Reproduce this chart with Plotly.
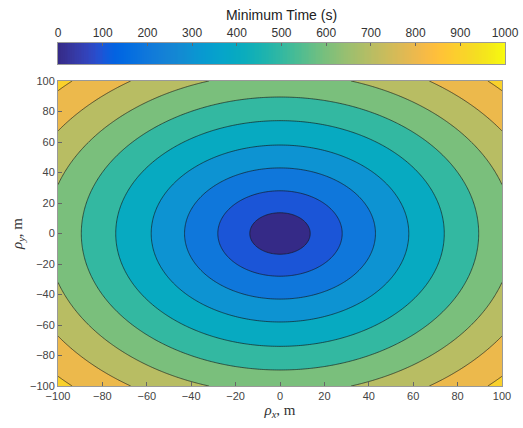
import numpy as np
import plotly.graph_objects as go

# ---- data ----
# radial distance (m) from the origin at which each contour level is crossed
radius_m = [0, 13.6, 28.0, 43.0, 58.0, 74.0, 89.5, 105.0, 120.5, 137.0, 141.5]
time_s = [5, 100, 200, 300, 400, 500, 600, 700, 800, 900, 930]
contour_levels = [100, 200, 300, 400, 500, 600, 700, 800, 900]
axis_ticks = [-100, -80, -60, -40, -20, 0, 20, 40, 60, 80, 100]
cbar_ticks = [0, 100, 200, 300, 400, 500, 600, 700, 800, 900, 1000]
cbar_range = [0, 1000]

# ---- parula colormap ----
parula = [[0.2081, 0.1663, 0.5292], [0.2116, 0.1898, 0.5777], [0.2123, 0.2138, 0.6270], [0.2081, 0.2386, 0.6771],
          [0.1959, 0.2645, 0.7279], [0.1707, 0.2919, 0.7792], [0.1253, 0.3242, 0.8303], [0.0591, 0.3598, 0.8683],
          [0.0117, 0.3875, 0.8820], [0.0060, 0.4086, 0.8828], [0.0165, 0.4266, 0.8786], [0.0329, 0.4430, 0.8720],
          [0.0498, 0.4586, 0.8641], [0.0629, 0.4737, 0.8554], [0.0723, 0.4887, 0.8467], [0.0779, 0.5040, 0.8384],
          [0.0793, 0.5200, 0.8312], [0.0749, 0.5375, 0.8263], [0.0641, 0.5570, 0.8240], [0.0488, 0.5772, 0.8228],
          [0.0343, 0.5966, 0.8199], [0.0265, 0.6137, 0.8135], [0.0239, 0.6287, 0.8038], [0.0231, 0.6418, 0.7913],
          [0.0228, 0.6535, 0.7768], [0.0267, 0.6642, 0.7607], [0.0384, 0.6743, 0.7436], [0.0590, 0.6838, 0.7254],
          [0.0843, 0.6928, 0.7062], [0.1133, 0.7015, 0.6859], [0.1453, 0.7098, 0.6646], [0.1801, 0.7177, 0.6424],
          [0.2178, 0.7250, 0.6193], [0.2586, 0.7317, 0.5954], [0.3022, 0.7376, 0.5712], [0.3482, 0.7424, 0.5473],
          [0.3953, 0.7459, 0.5244], [0.4420, 0.7481, 0.5033], [0.4871, 0.7491, 0.4840], [0.5300, 0.7491, 0.4661],
          [0.5709, 0.7485, 0.4494], [0.6099, 0.7473, 0.4337], [0.6473, 0.7456, 0.4188], [0.6834, 0.7435, 0.4044],
          [0.7184, 0.7411, 0.3905], [0.7525, 0.7384, 0.3768], [0.7858, 0.7356, 0.3633], [0.8185, 0.7327, 0.3498],
          [0.8507, 0.7299, 0.3360], [0.8824, 0.7274, 0.3217], [0.9139, 0.7258, 0.3063], [0.9450, 0.7261, 0.2886],
          [0.9739, 0.7314, 0.2666], [0.9938, 0.7455, 0.2403], [0.9990, 0.7653, 0.2164], [0.9955, 0.7861, 0.1967],
          [0.9880, 0.8066, 0.1794], [0.9789, 0.8271, 0.1633], [0.9697, 0.8481, 0.1475], [0.9626, 0.8705, 0.1309],
          [0.9589, 0.8949, 0.1132], [0.9598, 0.9218, 0.0948], [0.9661, 0.9514, 0.0755], [0.9763, 0.9831, 0.0538]]
parula = np.array(parula)


def parula_at(t):
    t = min(max(t, 0.0), 1.0)
    pos = t * (len(parula) - 1)
    i = int(np.floor(pos))
    j = min(i + 1, len(parula) - 1)
    f = pos - i
    c = parula[i] * (1 - f) + parula[j] * f
    return "rgb(%d,%d,%d)" % tuple(np.round(c * 255).astype(int))


cont_scale = [[k / (len(parula) - 1), parula_at(k / (len(parula) - 1))] for k in range(len(parula))]

# band colours in MATLAB style: each band coloured by its lower level
band_lows = [0] + contour_levels
band_scale = [[k / (len(band_lows) - 1), parula_at(v / 1000)] for k, v in enumerate(band_lows)]

# ---- field ----
gx = np.linspace(-100, 100, 241)
gy = np.linspace(-100, 100, 241)
XX, YY = np.meshgrid(gx, gy)
Z = np.interp(np.hypot(XX, YY), radius_m, time_s)

step = contour_levels[1] - contour_levels[0]
fig = go.Figure()
fig.add_trace(go.Contour(
    x=gx, y=gy, z=Z,
    contours=dict(start=contour_levels[0], end=contour_levels[-1], size=step, coloring="fill"),
    colorscale=band_scale,
    showscale=False,
    line=dict(color="rgba(20,20,20,0.9)", width=0.7),
    hoverinfo="skip",
))

# colour bar drawn as a one-row heatmap on its own axes (labels on top, like MATLAB)
ramp_edges = np.linspace(cbar_range[0], cbar_range[1], 257)
ramp_vals = 0.5 * (ramp_edges[:-1] + ramp_edges[1:])
fig.add_trace(go.Heatmap(
    x=ramp_edges, y=[0, 1], z=[ramp_vals],
    zmin=cbar_range[0], zmax=cbar_range[1], colorscale=cont_scale, showscale=False,
    xaxis="x2", yaxis="y2", hoverinfo="skip",
))

W, H = 523, 428
ml, mr, mt, mb = 58, 18, 40, 42
plot_w = W - ml - mr
plot_h = H - mt - mb


def fx(px):
    return (px - ml) / plot_w


def fy(py):
    return (H - mb - py) / plot_h


tickfont = dict(family="Liberation Sans, Arial", size=11, color="#444")
axis_common = dict(range=[-100, 100], tickvals=axis_ticks, ticks="inside", ticklen=4, tickcolor="#666",
                   showline=True, linecolor="#999", linewidth=1, mirror=True, showgrid=False, zeroline=False,
                   tickfont=tickfont, automargin=False)

fig.update_layout(
    width=W, height=H,
    margin=dict(l=ml, r=mr, t=mt, b=mb, autoexpand=False),
    paper_bgcolor="white", plot_bgcolor="white",
    showlegend=False,
    xaxis=dict(**axis_common, domain=[0, fx(502)], anchor="y",
               title=dict(text="<i>ρ</i><sub><i>x</i></sub>, m", standoff=1,
                          font=dict(family="Liberation Serif, DejaVu Serif", size=15, color="#333"))),
    yaxis=dict(**axis_common, domain=[0, fy(81)], anchor="x",
               title=dict(text="<i>ρ</i><sub><i>y</i></sub>, m", standoff=3,
                          font=dict(family="Liberation Serif, DejaVu Serif", size=15, color="#333"))),
    xaxis2=dict(domain=[0, 1], anchor="y2", side="top", range=cbar_range, tickvals=cbar_ticks,
                ticks="inside", ticklen=3, tickcolor="#666", showline=True, linecolor="#999", linewidth=1,
                mirror=True, showgrid=False, zeroline=False, automargin=False,
                tickfont=dict(family="Liberation Sans, Arial", size=12, color="#333"),
                title=dict(text="Minimum Time (s)", standoff=2,
                           font=dict(family="Liberation Sans, Arial", size=14, color="#222"))),
    yaxis2=dict(domain=[fy(64), fy(43)], anchor="x2", range=[0, 1], showticklabels=False, ticks="",
                showline=True, linecolor="#999", linewidth=1, mirror=True, showgrid=False, zeroline=False,
                automargin=False),
)

fig.write_html("out.html")
